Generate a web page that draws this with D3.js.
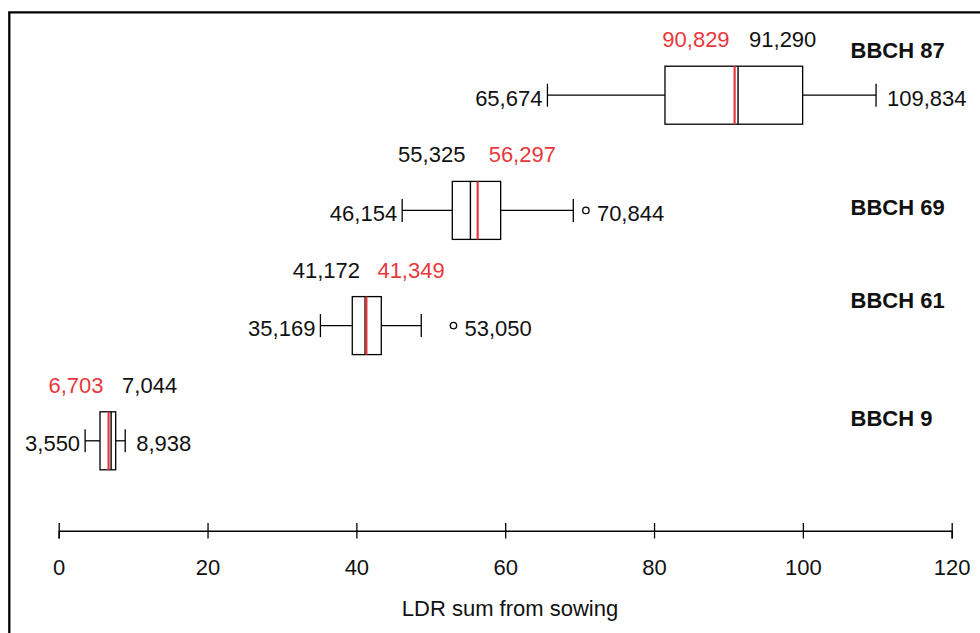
<!DOCTYPE html>
<html>
<head>
<meta charset="utf-8">
<script src="https://d3js.org/d3.v7.min.js"></script>
<style>
  body { margin: 0; background: #fff; }
  svg { display: block; font-family: "Liberation Sans", Arial, sans-serif; }
</style>
</head>
<body>
<svg width="980" height="633"></svg>
<script>
// growth stages, top to bottom
const stages = ["BBCH 87", "BBCH 69", "BBCH 61", "BBCH 9"];

// box plot statistics (LDR sum from sowing)
const minValues    = [65.674, 46.154, 35.169, 3.550];
const q1Values     = [81.47, 52.89, 39.45, 5.55];
const medianValues = [91.290, 55.325, 41.172, 7.044];
const meanValues   = [90.829, 56.297, 41.349, 6.703];
const q3Values     = [99.97, 59.39, 43.35, 7.66];
const maxValues    = [109.834, 69.15, 48.72, 8.938];
const outliers     = [null, 70.844, 53.050, null];

// labels printed next to the boxes (thousands, comma decimal)
const minLabels    = ["65,674", "46,154", "35,169", "3,550"];
const medianLabels = ["91,290", "55,325", "41,172", "7,044"];
const meanLabels   = ["90,829", "56,297", "41,349", "6,703"];
const rightLabels  = ["109,834", "70,844", "53,050", "8,938"];

const xTicks = [0, 20, 40, 60, 80, 100, 120];

// vertical nudge of the stage names relative to their box
const stageLabelDy = [-37, 5, -17.5, -15];

var svg = d3.select("svg"),
    width = +svg.attr("width"),
    height = +svg.attr("height");

const red = "#e8383d";
const boxHeight = 58;
const capHeight = 23;

var x = d3.scaleLinear().domain([0, 120]).range([58.7, 951.7]);
var y = d3.scalePoint().domain(stages).range([95.2, 440.8]);

var data = stages.map((s, i) => ({
    stage: s,
    min: minValues[i], q1: q1Values[i], median: medianValues[i], mean: meanValues[i],
    q3: q3Values[i], max: maxValues[i], outlier: outliers[i],
    minLabel: minLabels[i], medianLabel: medianLabels[i], meanLabel: meanLabels[i],
    rightLabel: rightLabels[i], dy: stageLabelDy[i]
}));

// frame (runs off the right and bottom edges)
svg.append("path")
    .attr("d", "M9.3," + height + "V12.3H" + width)
    .attr("fill", "none")
    .attr("stroke", "black")
    .attr("stroke-width", 2.3);

// x axis
var axisY = 530.7;
var axis = svg.append("g")
    .attr("transform", "translate(0," + axisY + ")")
    .call(d3.axisBottom(x).tickValues(xTicks).tickSizeOuter(0).tickSize(7.7).tickPadding(0));
axis.select(".domain").attr("stroke-width", 1.5);
axis.selectAll(".tick line").attr("y1", -7.7).attr("stroke-width", 1.3);
axis.selectAll(".tick text")
    .attr("y", 44.6)
    .attr("dy", 0)
    .attr("font-size", 22)
    .attr("font-family", "Liberation Sans, Arial, sans-serif")
    .attr("fill", "#111");

svg.append("text")
    .attr("x", 510)
    .attr("y", 616)
    .attr("text-anchor", "middle")
    .attr("font-size", 22)
    .attr("fill", "#111")
    .text("LDR sum from sowing");

var g = svg.selectAll(".stage")
    .data(data)
    .enter().append("g")
    .attr("class", "stage")
    .attr("transform", d => "translate(0," + y(d.stage) + ")");

// whiskers
g.append("line")
    .attr("x1", d => x(d.min)).attr("x2", d => x(d.q1))
    .attr("stroke", "black").attr("stroke-width", 1.3);
g.append("line")
    .attr("x1", d => x(d.q3)).attr("x2", d => x(d.max))
    .attr("stroke", "black").attr("stroke-width", 1.3);
g.append("line")
    .attr("x1", d => x(d.min)).attr("x2", d => x(d.min))
    .attr("y1", -capHeight / 2).attr("y2", capHeight / 2)
    .attr("stroke", "black").attr("stroke-width", 1.3);
g.append("line")
    .attr("x1", d => x(d.max)).attr("x2", d => x(d.max))
    .attr("y1", -capHeight / 2).attr("y2", capHeight / 2)
    .attr("stroke", "black").attr("stroke-width", 1.3);

// box
g.append("rect")
    .attr("x", d => x(d.q1))
    .attr("y", -boxHeight / 2)
    .attr("width", d => x(d.q3) - x(d.q1))
    .attr("height", boxHeight)
    .attr("fill", "white")
    .attr("stroke", "black")
    .attr("stroke-width", 1.3);

// median and mean
g.append("line")
    .attr("x1", d => x(d.median)).attr("x2", d => x(d.median))
    .attr("y1", -boxHeight / 2).attr("y2", boxHeight / 2)
    .attr("stroke", "black").attr("stroke-width", 1.4);
g.append("line")
    .attr("x1", d => x(d.mean)).attr("x2", d => x(d.mean))
    .attr("y1", -boxHeight / 2).attr("y2", boxHeight / 2)
    .attr("stroke", red).attr("stroke-width", 2.2);

// outliers
g.filter(d => d.outlier != null).append("circle")
    .attr("cx", d => x(d.outlier))
    .attr("r", 3.2)
    .attr("fill", "white")
    .attr("stroke", "black")
    .attr("stroke-width", 1.3);

// value labels
g.append("text")
    .attr("x", d => x(d.min) - 5)
    .attr("y", 10.5)
    .attr("text-anchor", "end")
    .attr("font-size", 22)
    .attr("fill", "#111")
    .text(d => d.minLabel);
g.append("text")
    .attr("x", d => x(d.outlier != null ? d.outlier : d.max) + 11)
    .attr("y", 10.5)
    .attr("font-size", 22)
    .attr("fill", "#111")
    .text(d => d.rightLabel);

// median / mean above the box: lower value on the left
g.append("text")
    .attr("x", d => x(Math.min(d.median, d.mean)) - 5)
    .attr("y", -boxHeight / 2 - 19)
    .attr("text-anchor", "end")
    .attr("font-size", 22)
    .attr("fill", d => d.mean < d.median ? red : "#111")
    .text(d => d.mean < d.median ? d.meanLabel : d.medianLabel);
g.append("text")
    .attr("x", d => x(Math.max(d.median, d.mean)) + 11)
    .attr("y", -boxHeight / 2 - 19)
    .attr("font-size", 22)
    .attr("fill", d => d.mean < d.median ? "#111" : red)
    .text(d => d.mean < d.median ? d.medianLabel : d.meanLabel);

// stage names
g.append("text")
    .attr("x", 850.5)
    .attr("y", d => d.dy)
    .attr("font-size", 22)
    .attr("font-weight", "bold")
    .attr("fill", "#111")
    .text(d => d.stage);
</script>
</body>
</html>
